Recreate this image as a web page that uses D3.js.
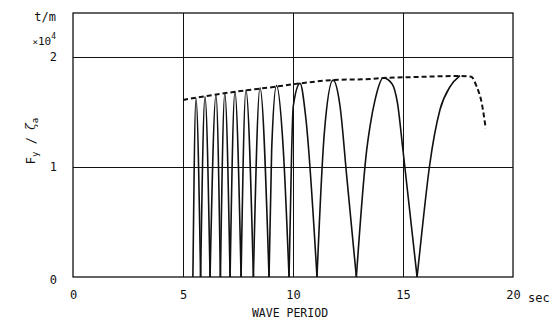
<!DOCTYPE html>
<html>
<head>
<meta charset="utf-8">
<script src="https://cdn.jsdelivr.net/npm/d3@7/dist/d3.min.js"></script>
<style>
  html, body { margin: 0; padding: 0; background: #fff; }
  svg { display: block; }
  text { font-family: "DejaVu Sans Mono", "Liberation Mono", monospace; fill: #111; }
</style>
</head>
<body>
<svg id="chart" width="555" height="320"></svg>
<script>
// ---- data ----
const xTicks = [0, 5, 10, 15, 20];
const yTicks = [0, 1, 2];
const xTickLabels = ["0", "5", "10", "15", "20"];
const yTickLabels = ["0", "1", "2"];

// solid response curve: wave period (sec) and Fy/ζa (x10^4 t/m); zeros split lobes
const solidPeriod = [5.45, 5.59, 5.80, 6.00, 6.23, 6.50, 6.70, 6.90, 7.14, 7.36, 7.64, 7.86, 8.20, 8.50, 8.91,
  9.03, 9.25, 9.56, 9.82, 9.94, 10.01, 10.32, 10.58, 11.09, 11.42, 11.82, 12.14, 12.44, 12.88,
  13.35, 13.50, 13.73, 14.10, 14.49, 14.75, 15.00, 15.64, 15.87, 16.20, 16.68, 17.14, 17.59];
const solidValue = [0, 1.625, 0, 1.64, 0, 1.655, 0, 1.67, 0, 1.685, 0, 1.70, 0, 1.72, 0,
  1.155, 1.74, 1.155, 0, 1.155, 1.55, 1.76, 1.45, 0, 1.30, 1.79, 1.55, 0.92, 0,
  1.155, 1.37, 1.61, 1.81, 1.76, 1.58, 1.15, 0, 0.43, 1.00, 1.52, 1.73, 1.83];

// dashed envelope
const envPeriod = [5.0, 7.4, 9.2, 10.3, 11.8, 13.5, 14.1, 15.0, 17.6, 18.1, 18.35, 18.58, 18.76];
const envValue  = [1.61, 1.685, 1.73, 1.76, 1.79, 1.80, 1.81, 1.815, 1.827, 1.82, 1.73, 1.58, 1.35];

// ---- layout ----
const svg = d3.select("#chart");
const x = d3.scaleLinear().domain([0, 20]).range([73, 513]);
const y = d3.scaleLinear().domain([0, 2.4]).range([277, 13]);
const ink = "#111";

// frame
svg.append("rect")
  .attr("x", x(0)).attr("y", y(2.4))
  .attr("width", x(20) - x(0)).attr("height", y(0) - y(2.4))
  .attr("fill", "none").attr("stroke", ink).attr("stroke-width", 1.3);

// grid
const gx = d3.axisBottom(x).tickValues([5, 10, 15]).tickSize(-(y(0) - y(2.4))).tickFormat("");
svg.append("g").attr("transform", `translate(0,${y(0)})`).call(gx)
  .call(g => g.select(".domain").remove())
  .call(g => g.selectAll("line").attr("stroke", ink).attr("stroke-width", 1));
const gy = d3.axisLeft(y).tickValues([1, 2]).tickSize(-(x(20) - x(0))).tickFormat("");
svg.append("g").attr("transform", `translate(${x(0)},0)`).call(gy)
  .call(g => g.select(".domain").remove())
  .call(g => g.selectAll("line").attr("stroke", ink).attr("stroke-width", 1));

// x tick labels
const ax = d3.axisBottom(x).tickValues(xTicks).tickSize(0).tickPadding(13)
  .tickFormat((d, i) => xTickLabels[i]);
svg.append("g").attr("transform", `translate(0,${y(0)})`).call(ax)
  .call(g => g.select(".domain").remove())
  .call(g => g.selectAll("text").attr("font-size", 12).attr("font-family", null).attr("fill", ink));

// y tick labels
const ay = d3.axisLeft(y).tickValues(yTicks).tickSize(0).tickPadding(16)
  .tickFormat((d, i) => yTickLabels[i]);
svg.append("g").attr("transform", `translate(${x(0)},0)`).call(ay)
  .call(g => g.select(".domain").remove())
  .call(g => g.selectAll("text").attr("font-size", 12).attr("font-family", null).attr("fill", ink)
    .attr("dy", (d) => d === 0 ? "0.55em" : "0.32em"));

// units
svg.append("text").attr("x", 56).attr("y", 21).attr("text-anchor", "end").attr("font-size", 12).text("t/m");
const u = svg.append("text").attr("x", 56).attr("y", 45).attr("text-anchor", "end").attr("font-size", 11);
u.append("tspan").attr("font-size", 9).text("×");
u.append("tspan").text("10");
u.append("tspan").attr("font-size", 8).attr("dy", -6).text("4");
svg.append("text").attr("x", 528).attr("y", 302).attr("font-size", 12).text("sec");

// x title
svg.append("text").attr("x", 290).attr("y", 317).attr("text-anchor", "middle")
  .attr("font-size", 11.5).text("WAVE PERIOD");

// y title (rotated)
const yt = svg.append("text").attr("transform", "translate(35,141) rotate(-90)")
  .attr("text-anchor", "middle").attr("font-size", 12).attr("fill", ink);
yt.append("tspan").attr("fill", ink).text("F");
yt.append("tspan").attr("fill", ink).attr("font-size", 9).attr("dy", 3).text("y");
yt.append("tspan").attr("fill", ink).attr("dy", -3).text(" / ");
yt.append("tspan").attr("fill", ink).attr("font-family", "DejaVu Serif").attr("font-style", "italic").text("ζ");
yt.append("tspan").attr("fill", ink).attr("font-size", 9).attr("dy", 3).text("a");

// solid curve split into lobes at zeros
const pts = solidPeriod.map((t, i) => [t, solidValue[i]]);
const lobes = [];
let cur = [];
pts.forEach((p) => {
  cur.push(p);
  if (p[1] === 0 && cur.length > 1) { lobes.push(cur); cur = [p]; }
});
if (cur.length > 1) lobes.push(cur);

const line = d3.line().x(d => x(d[0])).y(d => y(d[1])).curve(d3.curveMonotoneX);
svg.append("g").selectAll("path").data(lobes).join("path")
  .attr("d", line).attr("fill", "none").attr("stroke", ink).attr("stroke-width", 1.6)
  .attr("stroke-linejoin", "round");

// dashed envelope
const env = envPeriod.map((t, i) => [t, envValue[i]]);
svg.append("path").datum(env).attr("d", line)
  .attr("fill", "none").attr("stroke", ink).attr("stroke-width", 2)
  .attr("stroke-dasharray", "5,3");
</script>
</body>
</html>
